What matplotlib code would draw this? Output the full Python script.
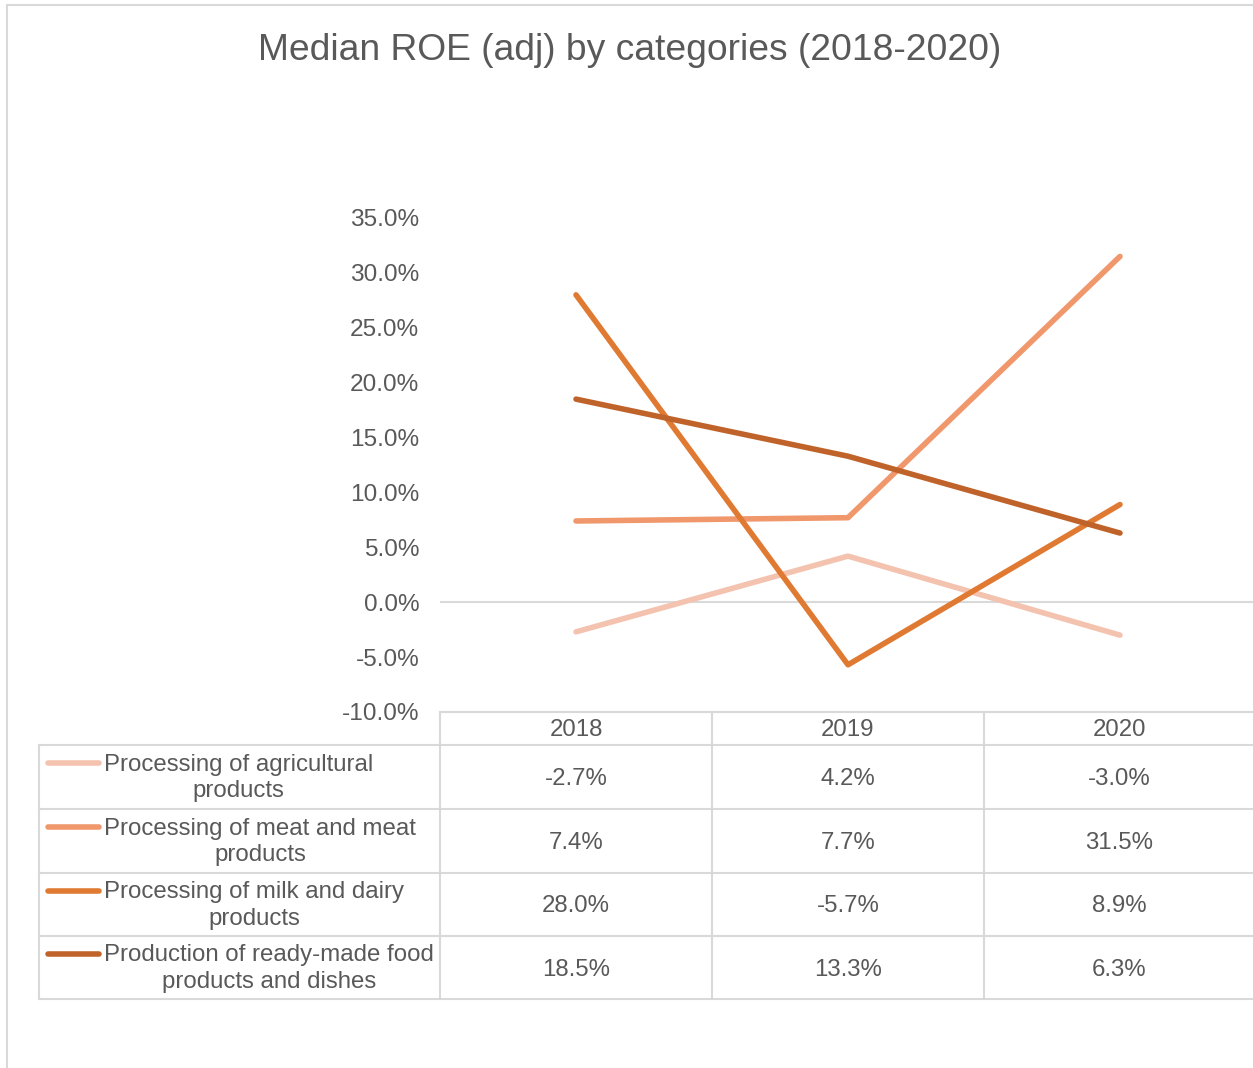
import matplotlib.pyplot as plt
from matplotlib.lines import Line2D
from matplotlib.patches import Rectangle

plt.rcParams['font.family'] = ['Liberation Sans', 'DejaVu Sans']

years = ['2018', '2019', '2020']
categories = ['Processing of agricultural\nproducts',
              'Processing of meat and meat\nproducts',
              'Processing of milk and dairy\nproducts',
              'Production of ready-made food\nproducts and dishes']
agri = [-2.7, 4.2, -3.0]
meat = [7.4, 7.7, 31.5]
milk = [28.0, -5.7, 8.9]
ready = [18.5, 13.3, 6.3]
series = [agri, meat, milk, ready]
colors = ['#F4C3B0', '#F0976C', '#E07A32', '#C0632A']
yticks = [-10, -5, 0, 5, 10, 15, 20, 25, 30, 35]

W, H = 1253, 1068
txt = '#595959'
grid = '#D9D9D9'

def fx(px):
    return px / W

def fy(py):
    return 1 - py / H

fig = plt.figure(figsize=(W / 100, H / 100), dpi=100)

# chart frame (only top and left edges fall inside the image)
fig.add_artist(Rectangle((fx(7), fy(1100)), 2, fy(5) - fy(1100),
                         transform=fig.transFigure, fill=False,
                         edgecolor=grid, lw=1.5))

fig.text(fx(630), fy(50), 'Median ROE (adj) by categories (2018-2020)',
         ha='center', va='center', fontsize=26.8, color=txt)

ax = fig.add_axes([fx(440), fy(712), fx(1256) - fx(440), fy(218) - fy(712)])
x = range(len(years))
for vals, c in zip(series, colors):
    ax.plot(x, vals, color=c, lw=4, solid_capstyle='round', zorder=3)
ax.axhline(0, color=grid, lw=1.5, zorder=1)
ax.set_xlim(-0.5, 2.5)
ax.set_ylim(-10, 35)
ax.set_yticks(yticks)
ax.set_yticklabels([f'{v:.1f}%' for v in yticks])
ax.tick_params(axis='y', length=0, pad=15, labelsize=17.6, labelcolor=txt)
ax.set_xticks([])
for s in ax.spines.values():
    s.set_visible(False)

# data table below the plot
col_edges = [440, 712, 984, 1256]
row_edges = [745, 809, 873, 936, 999]
col_centers = [576, 848, 1119]
fs = 17.3

def hline(y, x0, x1):
    fig.add_artist(Line2D([fx(x0), fx(x1)], [fy(y), fy(y)],
                          transform=fig.transFigure, color=grid, lw=1.5))

def vline(x0, y0, y1):
    fig.add_artist(Line2D([fx(x0), fx(x0)], [fy(y0), fy(y1)],
                          transform=fig.transFigure, color=grid, lw=1.5))

hline(712, 440, 1260)
for y in row_edges:
    hline(y, 39, 1260)
vline(39, 745, 999)
for xe in col_edges[:-1]:
    vline(xe, 712, 999)

for xc, yr in zip(col_centers, years):
    fig.text(fx(xc), fy(730), yr, ha='center', va='center',
             fontsize=fs, color=txt)

for i, (name, vals, c) in enumerate(zip(categories, series, colors)):
    yc = (row_edges[i] + row_edges[i + 1]) / 2
    fig.add_artist(Line2D([fx(48), fx(99)], [fy(yc - 14), fy(yc - 14)],
                          transform=fig.transFigure, color=c, lw=4,
                          solid_capstyle='round'))
    fig.text(fx(104), fy(yc + 1), name, ha='left', va='center',
             multialignment='center', fontsize=fs, color=txt,
             linespacing=1.25)
    for xc, v in zip(col_centers, vals):
        fig.text(fx(xc), fy(yc + 2), f'{v:.1f}%', ha='center', va='center',
                 fontsize=fs, color=txt)

fig.savefig('out.png', dpi=100)
